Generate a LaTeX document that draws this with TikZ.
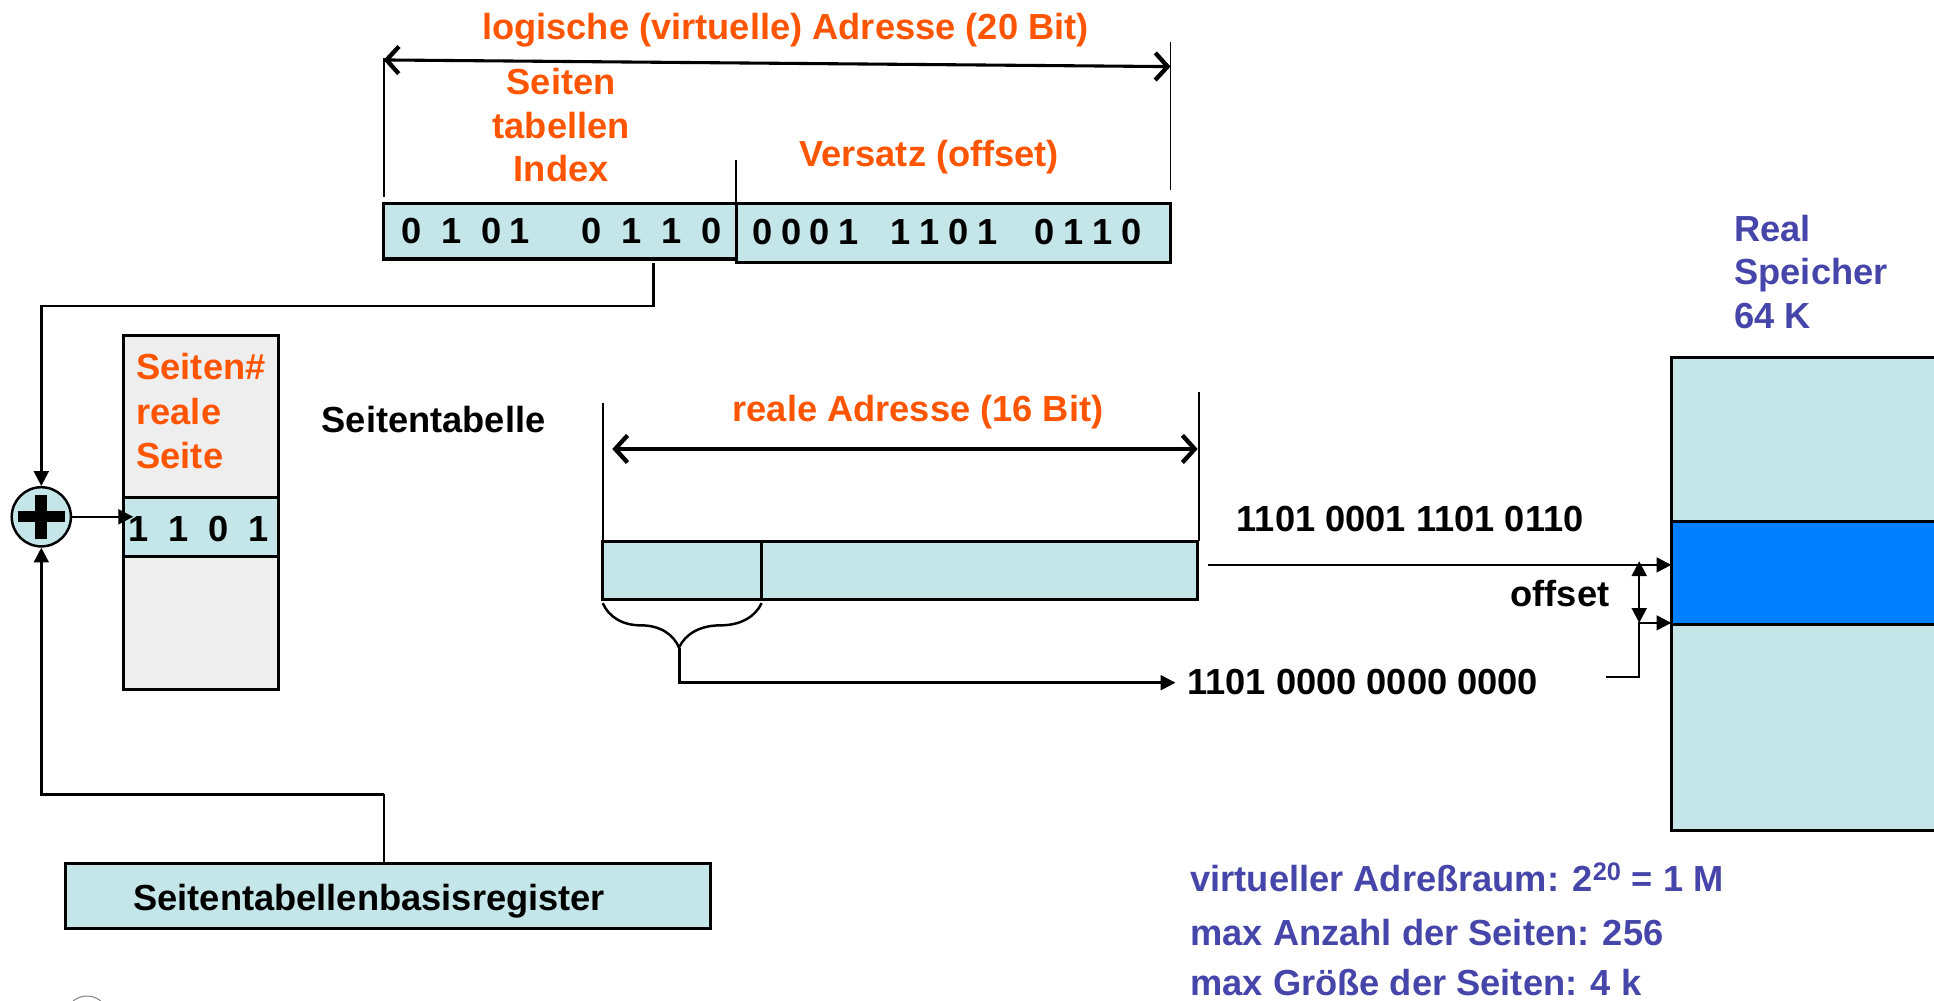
\documentclass[tikz,border=0pt]{standalone}
\usepackage{fontspec}
\setmainfont{Liberation Sans}
\usetikzlibrary{arrows.meta,decorations.pathreplacing}
\definecolor{lblue}{HTML}{C4E6E8}
\definecolor{orng}{HTML}{FF5500}
\definecolor{dblue}{HTML}{4646AA}
\definecolor{band}{HTML}{0080FF}
\definecolor{lgray}{HTML}{EEEEEE}
\newcommand\dg{\hspace{7pt}}
\newcommand\wg{\hspace{16pt}}
\begin{document}
\begin{tikzpicture}[x=1pt,y=-1pt,
  txt/.style={inner sep=0pt, font=\fontsize{29.4}{35}\selectfont\bfseries},
  lbl/.style={txt, anchor=base west},
  cbl/.style={txt, anchor=base},
  box/.style={draw, line width=2.5pt, fill=lblue, inner sep=0pt, outer sep=0pt, anchor=north west},
  ext/.style={line width=1.5pt},
  conn/.style={line width=2pt},
  tri/.style={-{Triangle[length=12pt,width=12pt]}},
  dtri/.style={{Triangle[length=12pt,width=12pt]}-{Triangle[length=12pt,width=12pt]}},
  barb/.style={line width=2.5pt, {Straight Barb[length=10pt,width=22pt,line width=3.5pt]}-{Straight Barb[length=10pt,width=22pt,line width=3.5pt]}}
]
\useasboundingbox (0,0) rectangle (1568,811);

% ---------- logical address ----------
\node[lbl, text=orng] (ltitle) at (390.7,31.9) {logische (virtuelle) Adresse (20 Bit)};
\coordinate (la) at (311,48.6);
\coordinate (lb) at (949,54);
\draw[ext] (311,47) -- (311,160);
\draw[ext] (949,34) -- (949,154);
\draw[barb] (la) -- (lb);
\node[cbl, text=orng] (sti1) at (455,77) {Seiten};
\node[cbl, text=orng] (sti2) at (455,112.2) {tabellen};
\node[cbl, text=orng] (sti3) at (455,147.3) {Index};
\node[cbl, text=orng] (vers) at (753.3,135.1) {Versatz (offset)};

\node[box, minimum width=286pt, minimum height=45pt] (pidx) at (311,165) {};
\node[box, minimum width=352pt, minimum height=48pt] (poff) at (597,165) {};
\draw[ext] (597,130) -- (pidx.north east);

\node[lbl] (b1) at (325.2,197.5) {0\wg 1\wg 0\dg 1};
\node[lbl] (b2) at (471.5,197.5) {0\wg 1\wg 1\wg 0};
\node[lbl] (b3) at (609.8,198.3) {0\dg 0\dg 0\dg 1};
\node[lbl] (b4) at (722,198.3) {1\dg 1\dg 0\dg 1};
\node[lbl] (b5) at (838.8,198.3) {0\dg 1\dg 1\dg 0};

% ---------- adder ----------
\node[draw, circle, line width=2pt, fill=lblue, minimum size=48pt, inner sep=0pt] (plus) at (33.5,419) {};
\fill (plus.center) ++(-19,-4.5) rectangle ++(38,9);
\fill (plus.center) ++(-5,-18) rectangle ++(10,36);

\coordinate (c1) at (530,213);
\coordinate (c2) at (530,248);
\coordinate (c3) at (33.5,248);
\draw[conn, tri] (c1) -- (c2) -- (c3) -- (plus.north);

% ---------- page table ----------
\node[draw, line width=2.5pt, fill=lgray, inner sep=0pt, outer sep=0pt, anchor=north west, minimum width=126pt, minimum height=287pt] (ptab) at (100,272) {};
\node[box, minimum width=126pt, minimum height=48pt] (row) at (100,403) {};
\node[lbl, text=orng] (st1) at (110.5,308) {Seiten\#};
\node[lbl, text=orng] (st2) at (110.5,344.2) {reale};
\node[lbl, text=orng] (st3) at (110.5,379.7) {Seite};
\node[lbl] (rowtxt) at (104,439.2) {1\wg 1\wg 0\wg 1};
\node[lbl] (stab) at (260.6,350.8) {Seitentabelle};

\coordinate (rowin) at (108,0);
\draw[conn, tri] (plus.east) -- (plus.east -| rowin);

% ---------- base register ----------
\node[box, minimum width=523pt, minimum height=53pt] (reg) at (53,700) {};
\node[lbl] (regtxt) at (108,737.8) {Seitentabellenbasisregister};
\coordinate (r1) at (311,644);
\coordinate (r2) at (33.5,644);
\draw[ext] (reg.north -| r1) -- (r1);
\draw[conn, tri] (r1) -- (r2) -- (plus.south);

% ---------- real address ----------
\node[cbl, text=orng] (rtitle) at (744.3,341.9) {reale Adresse (16 Bit)};
\draw[ext] (488.7,327) -- (488.7,439);
\draw[ext] (971.8,317.6) -- (971.8,439);
\coordinate (ra) at (496.4,364);
\coordinate (rb) at (971,364);
\draw[barb] (ra) -- (rb);
\node[box, minimum width=482pt, minimum height=47pt] (raddr) at (488.7,439) {};
\draw[conn] (617.5,439) -- (617.5,486);

\draw[line width=2pt, decorate, decoration={brace, amplitude=36pt, aspect=0.48, mirror}] (488.7,489) -- (617.5,489);
\coordinate (bt) at (551,525);
\coordinate (bc) at (551,553.5);
\coordinate (be) at (953,553.5);
\draw[conn, tri] (bt) -- (bc) -- (be);
\node[lbl] (lowtxt) at (962.4,563.2) {1101 0000 0000 0000};

% ---------- real memory ----------
\node[lbl, text=dblue] (rs1) at (1406,195.8) {Real};
\node[lbl, text=dblue] (rs2) at (1406,231) {Speicher};
\node[lbl, text=dblue] (rs3) at (1406,266.3) {64 K};
\node[box, minimum width=240pt, minimum height=383pt] (mem) at (1355,290) {};
\node[draw, line width=2.5pt, fill=band, inner sep=0pt, outer sep=0pt, anchor=north west, minimum width=240pt, minimum height=83.5pt] (band) at (1355,422.5) {};

\node[lbl] (hitxt) at (1002.5,431.1) {1101 0001 1101 0110};
\coordinate (h0) at (979,458);
\draw[conn, tri] (h0) -- (mem.west |- h0);
\node[lbl] (offtxt) at (1224.5,491.6) {offset};
\coordinate (o1) at (1329,455);
\coordinate (o2) at (1329,505);
\draw[conn, dtri] (o1) -- (o2);
\coordinate (e1) at (1302,548.7);
\coordinate (e2) at (1329,548.7);
\draw[conn, tri] (e1) -- (e2) -- (o2) -- (mem.west |- o2);

% ---------- notes ----------
\node[lbl, text=dblue] (n1) at (965,723) {virtueller Adreßraum: 2\textsuperscript{20} = 1 M};
\node[lbl, text=dblue] (n2) at (965,766.2) {max Anzahl der Seiten: 256};
\node[lbl, text=dblue] (n3) at (965,806.7) {max Größe der Seiten: 4 k};

% logo (cut off)
\draw[gray, line width=0.8pt] (70.5,825) circle (17.5pt);
\end{tikzpicture}
\end{document}
